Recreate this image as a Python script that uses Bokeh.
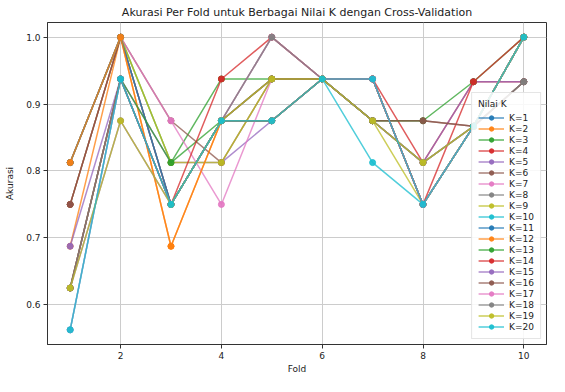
from bokeh.plotting import figure
from bokeh.models import FixedTicker, Range1d, Legend, LegendItem, ColumnDataSource
from bokeh.embed import file_html
from bokeh.resources import INLINE

folds = [1, 2, 3, 4, 5, 6, 7, 8, 9, 10]
k_labels = ["K=%d" % i for i in range(1, 21)]

acc_k1 = [0.8125, 1.0, 0.75, 0.875, 0.875, 0.9375, 0.9375, 0.75, 0.8667, 1.0]
acc_k2 = [0.6875, 1.0, 0.6875, 0.875, 0.875, 0.9375, 0.9375, 0.75, 0.8667, 1.0]
acc_k3 = [0.75, 1.0, 0.8125, 0.9375, 0.9375, 0.9375, 0.9375, 0.75, 0.8667, 1.0]
acc_k4 = [0.75, 1.0, 0.75, 0.875, 0.875, 0.9375, 0.9375, 0.8125, 0.9333, 0.9333]
acc_k5 = [0.6875, 0.9375, 0.8125, 0.8125, 0.875, 0.9375, 0.875, 0.8125, 0.9333, 0.9333]
acc_k6 = [0.75, 1.0, 0.875, 0.8125, 0.9375, 0.9375, 0.875, 0.875, 0.8667, 0.9333]
acc_k7 = [0.8125, 1.0, 0.875, 0.75, 0.9375, 0.9375, 0.9375, 0.75, 0.8667, 1.0]
acc_k8 = [0.8125, 1.0, 0.75, 0.875, 1.0, 0.9375, 0.875, 0.8125, 0.8667, 0.9333]
acc_k9 = [0.8125, 1.0, 0.8125, 0.8125, 0.9375, 0.9375, 0.875, 0.75, 0.8667, 1.0]
acc_k10 = [0.5625, 0.9375, 0.75, 0.875, 0.875, 0.9375, 0.8125, 0.75, 0.8667, 1.0]
acc_k11 = [0.8125, 1.0, 0.75, 0.875, 0.875, 0.9375, 0.9375, 0.75, 0.8667, 1.0]
acc_k12 = [0.8125, 1.0, 0.6875, 0.875, 0.875, 0.9375, 0.9375, 0.75, 0.8667, 1.0]
acc_k13 = [0.625, 0.9375, 0.8125, 0.875, 0.9375, 0.9375, 0.875, 0.875, 0.9333, 1.0]
acc_k14 = [0.625, 0.9375, 0.75, 0.9375, 1.0, 0.9375, 0.9375, 0.75, 0.9333, 1.0]
acc_k15 = [0.625, 0.875, 0.75, 0.875, 0.9375, 0.9375, 0.875, 0.8125, 0.8667, 1.0]
acc_k16 = [0.625, 0.9375, 0.75, 0.875, 0.9375, 0.9375, 0.875, 0.875, 0.8667, 0.9333]
acc_k17 = [0.5625, 0.9375, 0.75, 0.875, 1.0, 0.9375, 0.9375, 0.75, 0.8667, 1.0]
acc_k18 = [0.625, 0.9375, 0.75, 0.875, 1.0, 0.9375, 0.875, 0.8125, 0.8667, 0.9333]
acc_k19 = [0.625, 0.875, 0.75, 0.875, 0.9375, 0.9375, 0.875, 0.8125, 0.8667, 1.0]
acc_k20 = [0.5625, 0.9375, 0.75, 0.875, 0.875, 0.9375, 0.9375, 0.75, 0.8667, 1.0]

series = [acc_k1, acc_k2, acc_k3, acc_k4, acc_k5, acc_k6, acc_k7, acc_k8, acc_k9, acc_k10,
          acc_k11, acc_k12, acc_k13, acc_k14, acc_k15, acc_k16, acc_k17, acc_k18, acc_k19, acc_k20]

x_ticks = [2, 4, 6, 8, 10]
y_ticks = [0.6, 0.7, 0.8, 0.9, 1.0]
y_tick_labels = ["0.6", "0.7", "0.8", "0.9", "1.0"]

tab10 = ["#1f77b4", "#ff7f0e", "#2ca02c", "#d62728", "#9467bd",
         "#8c564b", "#e377c2", "#7f7f7f", "#bcbd22", "#17becf"]

FONT = "DejaVu Sans"

p = figure(width=549, height=376, output_backend="svg", toolbar_location=None,
           x_range=Range1d(0.55, 10.45), y_range=Range1d(0.5406, 1.0219),
           min_border_left=47, min_border_right=3, min_border_top=17, min_border_bottom=2,
           title="Akurasi Per Fold untuk Berbagai Nilai K dengan Cross-Validation")

p.title.align = "center"
p.title.text_font = FONT
p.title.text_font_size = "11px"
p.title.text_font_style = "normal"
p.title.text_color = "#222222"
p.title.standoff = 7

p.background_fill_color = "white"
p.border_fill_color = "white"
p.outline_line_color = "#333333"
p.outline_line_width = 1

p.xaxis.ticker = FixedTicker(ticks=x_ticks)
p.yaxis.ticker = FixedTicker(ticks=y_ticks)
p.yaxis.major_label_overrides = {t: l for t, l in zip(y_ticks, y_tick_labels)}
p.xaxis.axis_label = "Fold"
p.yaxis.axis_label = "Akurasi"
for ax in (p.xaxis, p.yaxis):
    ax.axis_label_text_font = FONT
    ax.axis_label_text_font_size = "9px"
    ax.axis_label_text_font_style = "normal"
    ax.axis_label_text_color = "#222222"
    ax.major_label_text_font = FONT
    ax.major_label_text_font_size = "9px"
    ax.major_label_text_color = "#222222"
    ax.minor_tick_line_color = None
    ax.major_tick_in = 0
    ax.major_tick_out = 4
    ax.major_tick_line_color = "#333333"
    ax.axis_line_color = "#333333"
    ax.major_label_standoff = 3
p.xaxis.axis_label_standoff = 2
p.yaxis.axis_label_standoff = 8

p.grid.grid_line_color = "#cccccc"
p.grid.grid_line_width = 1

items = []
for i, vals in enumerate(series):
    col = tab10[i % 10]
    src = ColumnDataSource(data=dict(x=folds, y=vals))
    lr = p.line("x", "y", source=src, line_color=col, line_width=1.5, line_alpha=0.75)
    sr = p.scatter("x", "y", source=src, size=6, fill_color=col, line_color=col,
                   fill_alpha=0.9, line_alpha=0.9)
    items.append(LegendItem(label=k_labels[i], renderers=[lr, sr]))

legend = Legend(items=items, location="bottom_right", title="Nilai K")
legend.title_text_font = FONT
legend.title_text_font_size = "9px"
legend.title_text_font_style = "normal"
legend.title_text_color = "#222222"
legend.title_standoff = 3
legend.label_text_font = FONT
legend.label_text_font_size = "9px"
legend.label_text_color = "#222222"
legend.label_height = 11
legend.glyph_height = 11
legend.glyph_width = 26
legend.spacing = 0
legend.padding = 6
legend.margin = 5
legend.border_line_color = "#cccccc"
legend.background_fill_alpha = 0.85
p.add_layout(legend)

open("out.html", "w").write(file_html(p, INLINE))
